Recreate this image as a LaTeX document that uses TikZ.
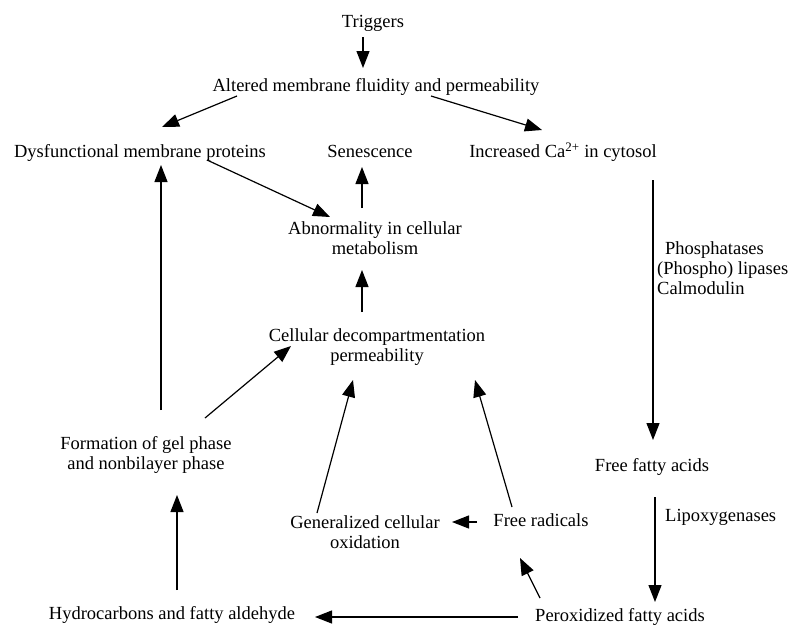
\documentclass[tikz,border=0pt]{standalone}
\usepackage{fontspec}
\setmainfont{Liberation Serif}
\usetikzlibrary{arrows.meta,
                positioning}

\begin{document}
\begin{tikzpicture}[x=1pt,y=-1pt,
  every node/.style={inner sep=0pt, font=\fontsize{18.5}{20}\selectfont},
  oneline/.style={text height=12.7pt, text depth=4pt},
  twoline/.style={align=center},
  arr/.style={-{Triangle[length=17pt,width=13pt]}, line width=1.2pt}]
  \useasboundingbox (0,0) rectangle (799,627);

  % top row
  \node[oneline] (trig) at (373,23) {Triggers};
  \node[oneline] (alt)  at (376,87) {Altered membrane fluidity and permeability};
  \node[oneline] (dys)  at (140,153) {Dysfunctional membrane proteins};
  \node[oneline] (sen)  at (370,153) {Senescence};
  \node[oneline] (inc)  at (563,153) {Increased Ca\textsuperscript{2+} in cytosol};

  % middle
  \node[twoline] (abn) at (375,238) {Abnormality in cellular\\metabolism};
  \node[twoline] (cel) at (377,347) {Cellular decompartmentation\\permeability};
  \node[twoline] (frm) at (146,455) {Formation of gel phase\\and nonbilayer phase};
  \node[align=left, anchor=west] (enz) at (657,268)
    {\hspace*{8pt}Phosphatases\\(Phospho) lipases\\Calmodulin};
  \node[oneline] (ffa) at (652,467) {Free fatty acids};
  \node[oneline, anchor=west] (lox) at (665,517) {Lipoxygenases};

  % bottom
  \node[twoline] (gen) at (365,532) {Generalized cellular\\oxidation};
  \node[oneline] (frr) at (541,522) {Free radicals};
  \node[oneline] (hyd) at (172,615) {Hydrocarbons and fatty aldehyde};
  \node[oneline] (per) at (620,617) {Peroxidized fatty acids};

  \draw[arr] ([shift={(-10,14)}]trig.center) -- ([shift={(-13,-19)}]alt.center);
  \draw[arr] ([shift={(-139,9)}]alt.center) -- ([shift={(22,-26)}]dys.center);
  \draw[arr] ([shift={(55,9)}]alt.center) -- ([shift={(-21,-23)}]inc.center);
  \draw[arr] ([shift={(67,7)}]dys.center) -- ([shift={(-45,-21)}]abn.center);
  \draw[arr] ([shift={(-13,-30)}]abn.center) -- ([shift={(-8,14)}]sen.center);
  \draw[arr] ([shift={(-15,-35)}]cel.center) -- ([shift={(-13,32)}]abn.center);
  \draw[arr] ([shift={(59,-37)}]frm.center) -- ([shift={(-86,-1)}]cel.center);
  \draw[arr] ([shift={(15,-45)}]frm.center) -- ([shift={(21,12)}]dys.center);
  \draw[arr] ([shift={(5,-25)}]hyd.center) -- ([shift={(31,40)}]frm.center);
  \draw[arr] ([shift={(-48,-19)}]gen.center) -- ([shift={(-24,33)}]cel.center);
  \draw[arr] ([shift={(-29,-15)}]frr.center) -- ([shift={(98,33)}]cel.center);
  \draw[arr] ([shift={(-64,0)}]frr.center) -- ([shift={(87,-10)}]gen.center);
  \draw[arr] ([shift={(-80,-19)}]per.center) -- ([shift={(-21,36)}]frr.center);
  \draw[arr] ([shift={(-102,0)}]per.center) -- ([shift={(143,2)}]hyd.center);
  \draw[arr] ([shift={(90,27)}]inc.center) -- ([shift={(1,-27)}]ffa.center);
  \draw[arr] ([shift={(3,30)}]ffa.center) -- ([shift={(35,-15)}]per.center);
\end{tikzpicture}
\end{document}
